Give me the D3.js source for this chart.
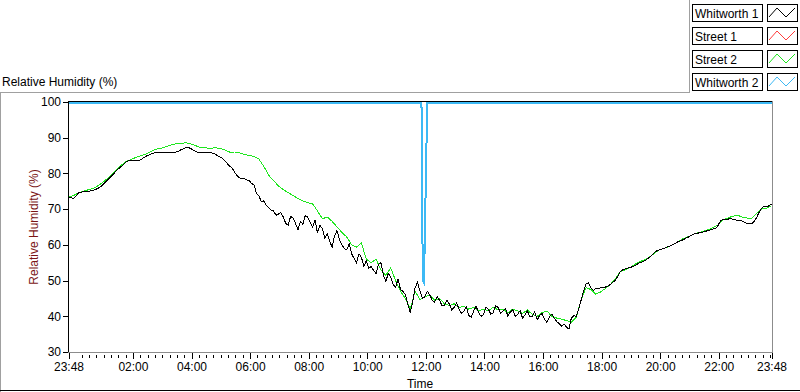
<!DOCTYPE html>
<html>
<head>
<meta charset="utf-8">
<script src="https://cdn.jsdelivr.net/npm/d3@7"></script>
<style>
  body { margin: 0; background: #fff; }
  svg { display: block; font-family: "Liberation Sans", Arial, sans-serif; }
  .axis text { font-size: 12px; fill: #000; }
  .axis line { stroke: #000; shape-rendering: crispEdges; }
  .axis path { display: none; }
</style>
</head>
<body>
<svg class="chart"></svg>
<script>
const W = 800, H = 392;

// the log runs from 23:48 to 23:48 the next day
const startTime = new Date(2000, 0, 1, 23, 48);
const endTime = new Date(2000, 0, 2, 23, 48);

const seriesNames = ["Whitworth 1", "Street 1", "Street 2", "Whitworth 2"];
const seriesColors = ["#000000", "#ff3c3c", "#1ee61e", "#3cb9f5"];

// Whitworth 1 (black), %RH every 5 min, one row per hour
const whitworth1Step = 5;
const whitworth1 = [
  73.4, 73.2, 73.0, 73.6, 74.5, 74.7, 74.9, 74.9, 75.0, 75.1, 75.3, 75.5,
  75.8, 76.2, 76.8, 77.5, 78.2, 78.8, 79.5, 80.3, 81.0, 81.6, 82.2, 82.8,
  83.4, 83.6, 83.6, 83.5, 83.5, 83.7, 84.0, 84.5, 84.9, 85.2, 85.5, 85.7,
  85.9, 85.9, 85.9, 85.9, 85.9, 85.9, 85.9, 85.9, 86.0, 86.2, 86.6, 86.9,
  87.2, 87.3, 87.0, 86.6, 86.2, 85.9, 85.9, 85.9, 85.9, 85.9, 85.9, 85.7,
  85.4, 85.0, 84.7, 84.2, 83.6, 82.8, 82.0, 81.6, 80.4, 79.4, 78.8, 78.6,
  78.5, 78.2, 78.0, 77.2, 76.8, 74.4, 73.8, 72.0, 72.3, 71.0, 70.5, 69.7,
  69.5, 68.3, 68.6, 69.0, 67.8, 66.0, 65.5, 68.0, 67.5, 66.0, 64.2, 66.5,
  65.8, 68.2, 67.8, 66.2, 65.0, 67.0, 63.3, 65.5, 64.5, 62.0, 63.0, 61.0,
  59.4, 62.5, 64.0, 61.5, 60.0, 59.0, 58.6, 60.2, 57.5, 56.2, 55.0, 57.5,
  56.5, 54.0, 55.5, 53.5, 53.9, 52.8, 52.0, 54.5, 55.0, 51.5, 49.8, 52.0,
  51.0, 49.0, 48.0, 50.5, 47.5, 47.0, 46.0, 43.5, 41.0, 44.0, 48.0, 49.5,
  47.0, 45.0, 45.5, 47.0, 46.0, 44.5, 44.0, 45.5, 44.5, 43.0, 43.0, 44.5,
  43.5, 41.8, 42.5, 43.8, 42.0, 40.8, 41.5, 42.6, 40.2, 39.8, 41.5, 42.8,
  41.0, 40.0, 40.5, 42.5, 42.0, 40.6, 41.0, 43.0, 42.5, 40.8, 41.5, 42.2,
  40.0, 41.2, 41.8, 40.0, 40.5, 41.6, 39.5, 40.4, 41.5, 39.8, 40.0, 41.2,
  39.0, 40.2, 40.8, 39.2, 38.3, 39.8, 40.6, 39.5, 38.5, 38.0, 37.2, 37.8,
  37.0, 36.4, 39.5, 40.2, 40.0, 42.0, 44.5, 47.0, 49.0, 49.4, 48.0, 47.3,
  47.7, 47.8, 48.0, 48.0, 48.2, 48.5, 48.9, 49.5, 50.0, 51.2, 52.5, 53.0,
  53.2, 53.5, 53.6, 53.9, 54.2, 54.6, 55.0, 55.2, 55.5, 56.0, 56.5, 57.2,
  57.8, 58.3, 58.6, 58.8, 59.0, 59.3, 59.6, 59.9, 60.2, 60.6, 61.0, 61.2,
  61.5, 61.9, 62.2, 62.6, 63.0, 63.1, 63.3, 63.5, 63.6, 63.8, 64.0, 64.2,
  64.4, 64.6, 65.3, 66.6, 67.2, 67.2, 67.2, 67.3, 67.2, 67.0, 66.9, 66.8,
  66.7, 66.3, 66.0, 66.0, 66.0, 66.6, 67.8, 69.2, 70.3, 70.8, 70.8, 70.9, 71.4
];

// Street 1 (red): no readings shown in the plot
const street1Step = 10;
const street1 = [];

// Street 2 (green), %RH every 10 min
const street2Step = 10;
const street2 = [
  73.3, 73.8, 74.5, 75.0, 75.4, 75.8, 76.5, 77.5, 78.6, 79.8,
  81.2, 82.5, 83.5, 84.0, 84.6, 85.0, 85.5, 86.2, 86.8, 87.0,
  87.5, 88.0, 88.3, 88.4, 88.6, 88.3, 87.8, 87.2, 87.2, 87.0,
  87.2, 87.0, 86.6, 86.0, 86.0, 85.8, 85.3, 85.0, 84.8, 84.0,
  82.0, 79.5, 78.0, 76.5, 75.5, 74.6, 73.8, 73.0, 72.3, 71.8,
  71.5, 69.5, 67.3, 67.8, 66.6, 65.0, 63.5, 62.2, 60.0, 59.4,
  60.5, 56.0, 55.0, 56.0, 53.0, 51.5, 53.5, 50.0, 47.0, 45.0,
  42.0, 47.0, 44.7, 45.5, 46.0, 44.5, 45.0, 43.5, 43.0, 43.5,
  42.5, 42.8, 42.0, 42.5, 41.5, 42.0, 41.5, 42.5, 41.8, 42.0,
  41.0, 42.0, 41.5, 40.8, 41.8, 40.5, 40.0, 41.0, 41.5, 40.0,
  39.5, 39.2, 38.8, 38.3, 39.7, 44.5, 48.0, 47.5, 46.2, 46.8,
  47.8, 48.9, 50.5, 52.5, 53.0, 53.6, 54.5, 55.3, 55.8, 56.6,
  57.6, 58.6, 59.0, 59.5, 60.2, 61.0, 61.8, 62.3, 63.0, 63.4,
  63.8, 64.2, 64.8, 65.5, 67.0, 67.5, 68.0, 68.3, 67.8, 67.5,
  67.5, 68.9, 70.0, 70.3, 71.0
];

// Whitworth 2 (blue): minutes after 23:48 and %RH
const whitworth2Minutes = [0, 723, 724, 725, 726, 728, 730, 732, 734, 735, 1440];
const whitworth2 = [99.7, 99.7, 86, 62, 50, 49.5, 62, 79, 93, 99.7, 99.7];

const yTicks = [30, 40, 50, 60, 70, 80, 90, 100];
const xTickHours = [2, 4, 6, 8, 10, 12, 14, 16, 18, 20, 22];

const svg = d3.select(".chart").attr("width", W).attr("height", H);

let x = d3.scaleTime()
          .domain([startTime, endTime])
          .range([68.5, 771.5]);

let y = d3.scaleLinear()
          .domain([30, 100])
          .range([352, 102]);

const minuteAt = (m) => new Date(startTime.getTime() + m * 60000);

// outer frame lines
svg.append("line").attr("x1", 0).attr("x2", 689.5).attr("y1", 92.5).attr("y2", 92.5)
   .attr("stroke", "#a0a0a0").style("shape-rendering", "crispEdges");
svg.append("line").attr("x1", 689.5).attr("x2", 689.5).attr("y1", 0).attr("y2", 92.5)
   .attr("stroke", "#a0a0a0").style("shape-rendering", "crispEdges");
svg.append("line").attr("x1", 0.5).attr("x2", 0.5).attr("y1", 92.5).attr("y2", H)
   .attr("stroke", "#a0a0a0").style("shape-rendering", "crispEdges");
svg.append("line").attr("x1", 0).attr("x2", W).attr("y1", 390.5).attr("y2", 390.5)
   .attr("stroke", "#000").style("shape-rendering", "crispEdges");

// Title
svg.append("text")
   .attr("x", 2).attr("y", 86)
   .style("font-size", "12px")
   .text("Relative Humidity (%)");

// y-Axis
svg.append("g")
   .attr("class", "axis")
   .attr("transform", "translate(68,0)")
   .call(d3.axisLeft(y).tickValues(yTicks).tickSize(5).tickPadding(2));

// x-Axis major ticks
const majorTicks = [startTime]
  .concat(xTickHours.map((h) => new Date(2000, 0, 2, h, 0)))
  .concat([endTime]);

svg.append("g")
   .attr("class", "axis")
   .attr("transform", "translate(0,353)")
   .call(d3.axisBottom(x).tickValues(majorTicks).tickSize(6).tickPadding(3)
           .tickFormat(d3.timeFormat("%H:%M")));

// x-Axis minor ticks every 15 min
const minorTicks = d3.timeMinute.every(15).range(new Date(2000, 0, 2, 0, 0), endTime)
  .filter((d) => d.getMinutes() !== 0 || d.getHours() % 2 !== 0);
svg.append("g")
   .attr("class", "axis")
   .attr("transform", "translate(0,355)")
   .call(d3.axisBottom(x).tickValues(minorTicks).tickSize(3).tickFormat(""));

// axis labels
svg.append("text")
   .attr("transform", "rotate(-90)")
   .attr("x", -227).attr("y", 38)
   .style("text-anchor", "middle")
   .style("font-size", "12px")
   .attr("fill", "#7a1515")
   .text("Relative Humidity (%)");

svg.append("text")
   .attr("x", 420).attr("y", 388)
   .style("text-anchor", "middle")
   .style("font-size", "12px")
   .text("Time");

// series
const line = d3.line()
               .x((d) => x(d[0]))
               .y((d) => y(d[1]));

svg.append("clipPath").attr("id", "plotClip")
   .append("rect").attr("x", 68).attr("y", 101).attr("width", 704).attr("height", 252);

const plot = svg.append("g").attr("clip-path", "url(#plotClip)");

const seriesData = [
  {color: seriesColors[1], width: 1, pts: street1.map((v, i) => [minuteAt(i * street1Step), v])},
  {color: seriesColors[2], width: 1, pts: street2.map((v, i) => [minuteAt(i * street2Step), v])},
  {color: seriesColors[0], width: 1, pts: whitworth1.map((v, i) => [minuteAt(i * whitworth1Step), v])},
  {color: seriesColors[3], width: 2, pts: whitworth2.map((v, i) => [minuteAt(whitworth2Minutes[i]), v])}
];

plot.selectAll(".series")
    .data(seriesData.filter((s) => s.pts.length > 0))
    .enter().append("path")
    .attr("class", "series")
    .attr("d", (s) => line(s.pts))
    .attr("fill", "none")
    .attr("stroke", (s) => s.color)
    .attr("stroke-width", (s) => s.width)
    .style("shape-rendering", "crispEdges");

// Plot border: dark top/left, grey bottom/right
svg.append("line").attr("x1", 68).attr("x2", 772).attr("y1", 101.5).attr("y2", 101.5)
   .attr("stroke", "#000").style("shape-rendering", "crispEdges");
svg.append("line").attr("x1", 68.5).attr("x2", 68.5).attr("y1", 101).attr("y2", 353)
   .attr("stroke", "#000").style("shape-rendering", "crispEdges");
svg.append("line").attr("x1", 68).attr("x2", 773).attr("y1", 352.5).attr("y2", 352.5)
   .attr("stroke", "#8c8c8c").style("shape-rendering", "crispEdges");
svg.append("line").attr("x1", 772.5).attr("x2", 772.5).attr("y1", 101).attr("y2", 353)
   .attr("stroke", "#8c8c8c").style("shape-rendering", "crispEdges");

// Legend
const legend = svg.append("g").selectAll("g")
   .data(seriesNames)
   .enter().append("g")
   .attr("transform", (d, i) => "translate(692," + (4 + i * 23) + ")");

legend.append("rect")
   .attr("x", 0.5).attr("y", 0.5).attr("width", 70).attr("height", 17)
   .attr("fill", "#fff").attr("stroke", "#000")
   .style("shape-rendering", "crispEdges");

legend.append("text")
   .attr("x", 3).attr("y", 13.5)
   .style("font-size", "12px")
   .text((d) => d);

legend.append("rect")
   .attr("x", 75.5).attr("y", 0.5).attr("width", 30).attr("height", 17)
   .attr("fill", "#fff").attr("stroke", "#000")
   .style("shape-rendering", "crispEdges");

legend.append("polyline")
   .attr("points", "77,13 85,4 94,13 103,4")
   .attr("fill", "none")
   .attr("stroke", (d, i) => seriesColors[i])
   .attr("stroke-width", 1);
</script>
</body>
</html>
